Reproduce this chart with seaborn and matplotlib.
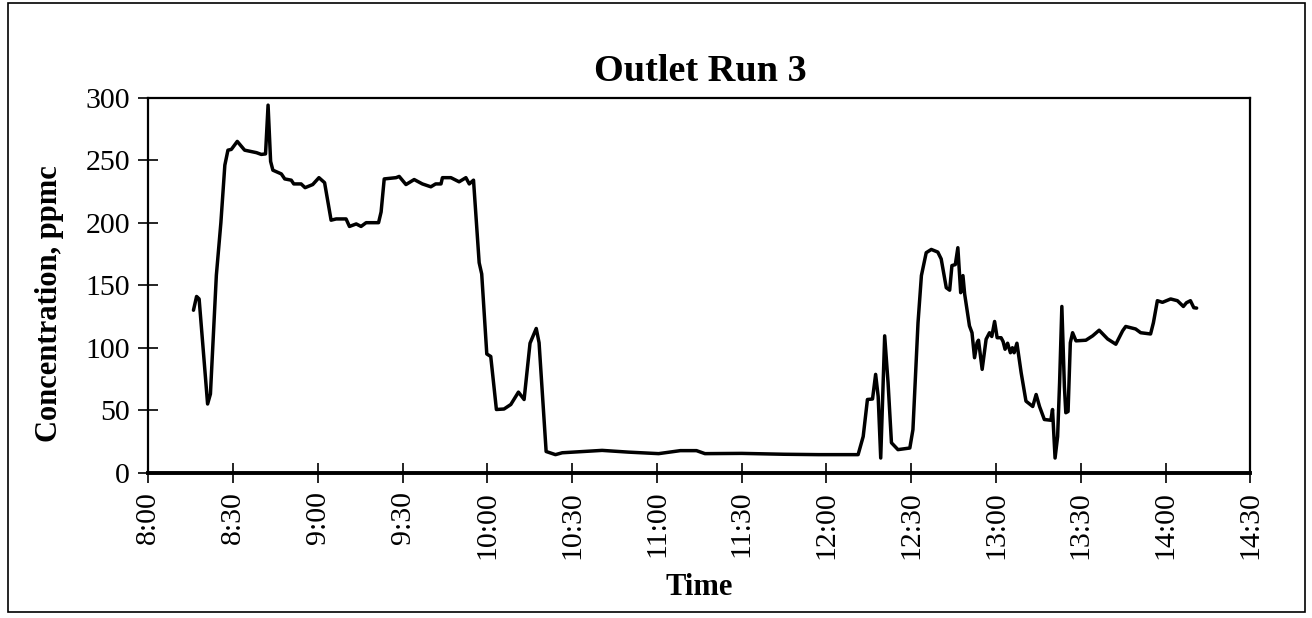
import numpy as np
import pandas as pd
from matplotlib import pyplot as plt
from matplotlib.patches import Rectangle
import seaborn as sb

'''
Outlet Run 3 - concentration over time
'''

# minutes after 8:00
minutes = [16.0, 17.1, 18.0, 21.0, 22.0, 24.1, 25.7, 27.1, 28.2, 29.4, 31.5, 34.1, 38.3, 40.0, 41.5,
           42.4, 43.3, 44.1, 47.1, 48.3, 50.6, 51.5, 54.1, 55.5, 58.2, 60.4, 62.4, 64.7, 66.5, 70.0,
           71.2, 73.6, 75.3, 77.1, 81.5, 82.4, 83.5, 87.7, 88.8, 91.2, 94.1, 97.0, 100.0, 101.7,
           103.6, 104.1, 107.1, 110.0, 112.4, 113.6, 115.1, 117.1, 118.0, 119.8, 121.2, 123.2,
           125.9, 128.3, 131.0, 133.0, 135.1, 137.3, 138.3, 140.8, 144.1, 146.5, 160.6, 170.0,
           180.6, 188.3, 194.0, 197.0, 210.0, 225.0, 237.2, 251.2, 253.0, 254.5, 256.3, 257.4,
           258.3, 259.2, 260.6, 261.8, 263.0, 265.3, 269.5, 270.6, 272.4, 273.6, 275.3, 277.1,
           279.4, 280.6, 282.4, 283.6, 284.4, 285.6, 286.5, 287.5, 288.3, 288.9, 290.6, 291.5,
           292.4, 293.3, 293.8, 295.1, 296.5, 297.7, 298.5, 299.5, 300.4, 301.8, 302.5, 303.2,
           304.1, 305.1, 305.8, 306.4, 307.4, 308.9, 310.6, 313.0, 314.2, 315.4, 317.1, 319.4,
           320.0, 320.9, 321.8, 322.5, 323.3, 324.2, 324.7, 325.5, 326.3, 327.1, 328.3, 331.8,
           334.2, 336.5, 339.5, 342.4, 344.8, 345.9, 349.4, 351.2, 354.7, 355.7, 357.1, 358.9,
           361.8, 364.2, 366.3, 367.4, 368.8, 370.0, 371.0]
ppmc = [130, 141, 139, 55, 63, 158, 200, 246, 258, 258.6, 265, 258, 256, 254.6, 255,
        294, 249, 242, 239, 235, 234, 231, 231, 228, 230.5, 236, 232, 202, 203, 203,
        197, 199, 197, 200, 200, 208.6, 235, 236, 237, 230.5, 234.5, 231, 228.7, 231,
        231, 236, 236, 232.7, 236, 231, 234, 168, 159, 95, 93, 50.6,
        51, 54.6, 64.5, 58.6, 103.6, 115.4, 104, 17, 14.5, 16, 17.9, 16.5,
        15.3, 17.7, 17.7, 15.3, 15.5, 14.8, 14.5, 14.5, 29, 58.6, 59, 78.7,
        61, 11.8, 109.5, 72, 24, 18.5, 19.8, 34.5, 120, 157.7, 176, 178.6,
        176.5, 171, 148, 146, 165.7, 166.5, 180, 144, 157.7, 143, 117.5, 112,
        92, 104, 106, 82.7, 106.8, 112, 109, 121, 108, 108, 105, 98.8,
        103.6, 96, 100, 96, 103.6, 80, 57.3, 53, 62.6, 53, 42.6, 42,
        50.6, 11.8, 29, 72, 133, 69, 48, 49, 104, 112, 105.5, 106,
        109.5, 114, 107, 102.8, 113.5, 117, 115, 112, 111, 120, 137.6, 136.3,
        139, 137.6, 133, 136, 137.6, 132, 131.7]

tick_minutes = list(range(0, 391, 30))
tick_labels = ['8:00', '8:30', '9:00', '9:30', '10:00', '10:30', '11:00', '11:30',
               '12:00', '12:30', '13:00', '13:30', '14:00', '14:30']


def outlet_plot(df):
    fig = plt.figure(figsize=(13.12, 6.18), dpi=100)
    ax = fig.add_axes([0.113, 0.235, 0.840, 0.607])
    sb.lineplot(data=df, x='Time', y='Concentration', ax=ax, color='black', linewidth=2.5)

    ax.set_xlim(0, 390)
    ax.set_ylim(0, 300)
    ax.set_xticks(tick_minutes)
    ax.set_xticklabels(tick_labels, rotation=90, fontsize=21.5)
    ax.set_yticks(range(0, 301, 50))
    ax.tick_params(axis='y', labelsize=21.5, direction='inout', length=14, width=1.2, pad=6,
                   color='black', labelcolor='black')
    ax.tick_params(axis='x', direction='inout', length=14, width=1.2, pad=6,
                   color='black', labelcolor='black')

    for side in ['top', 'right', 'left']:
        ax.spines[side].set_linewidth(1.6)
        ax.spines[side].set_color('black')
    ax.spines['bottom'].set_linewidth(2.8)
    ax.spines['bottom'].set_color('black')

    fig.text(0.534, 0.885, 'Outlet Run 3', fontsize=27.5, fontweight='bold',
             ha='center', va='center', color='black')
    ax.set_xlabel('Time', fontsize=22, fontweight='bold', color='black')
    ax.set_ylabel('Concentration, ppmc', fontsize=22, fontweight='bold', color='black')
    ax.xaxis.set_label_coords(0.5, -0.305)
    ax.yaxis.set_label_coords(-0.09, 0.45)
    ax.xaxis.label.set_va('center')
    ax.yaxis.label.set_va('center')

    # outer frame around the chart
    fig.patches.append(Rectangle((0.006, 0.01), 0.989, 0.985, transform=fig.transFigure,
                                 fill=False, edgecolor='black', linewidth=1.2))
    fig.savefig('out.png', dpi=100)
    return fig, ax


if __name__ == "__main__":
    sb.set_style('ticks')
    plt.rcParams['font.family'] = ['Liberation Serif', 'DejaVu Serif']

    outlet_df = pd.DataFrame({'Time': minutes, 'Concentration': ppmc})
    outlet_plot(outlet_df)
